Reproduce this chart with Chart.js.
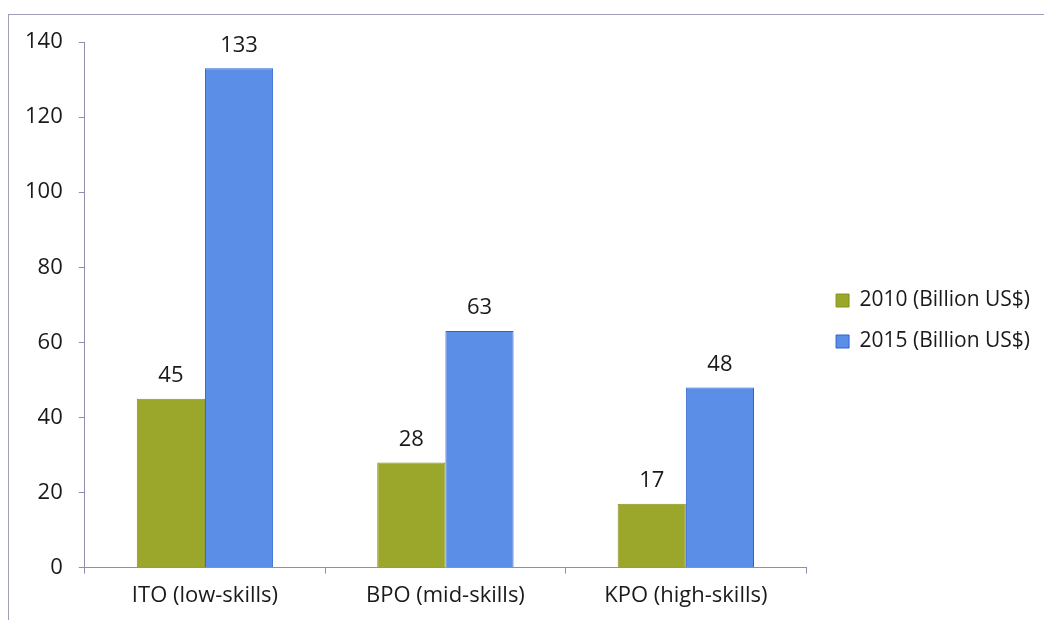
<!DOCTYPE html>
<html>
<head>
<meta charset="utf-8">
<script src="https://cdn.jsdelivr.net/npm/chart.js@4"></script>
<style>
  html, body { margin: 0; padding: 0; background: #fff; }
  body { width: 1044px; height: 620px; overflow: hidden; position: relative; }
  #frame {
    position: absolute; left: 8px; top: 14px; width: 1040px; height: 610px;
    border-top: 1px solid #9fa0b8; border-left: 1px solid #9fa0b8;
  }
  #wrap { position: absolute; left: 9px; top: 15px; width: 1035px; height: 605px; }
</style>
</head>
<body>
<div id="frame"></div>
<div id="wrap"><canvas id="c" width="1035" height="605"></canvas></div>
<script>
const categories = ['ITO (low-skills)', 'BPO (mid-skills)', 'KPO (high-skills)'];
const seriesNames = ['2010 (Billion US$)', '2015 (Billion US$)'];
const values2010 = [45, 28, 17];
const values2015 = [133, 63, 48];
const yTicks = [0, 20, 40, 60, 80, 100, 120, 140];

const FONT = '"Open Sans", sans-serif';
const SIZE = 22;
const AXIS = '#8e8fac';
const LEGEND_GAP = 10;   // extra room between plot and legend
const LEGEND_LIFT = 9;   // raise the legend block a little

// Writes each bar's value just above it
const valueLabels = {
  id: 'valueLabels',
  afterDatasetsDraw(chart) {
    const ctx = chart.ctx;
    ctx.save();
    ctx.font = SIZE + 'px ' + FONT;
    ctx.fillStyle = '#1a1a1a';
    ctx.textAlign = 'center';
    ctx.textBaseline = 'bottom';
    chart.data.datasets.forEach((ds, i) => {
      chart.getDatasetMeta(i).data.forEach((bar, j) => {
        ctx.fillText(String(ds.data[j]), bar.x, bar.y - 12);
      });
    });
    ctx.restore();
  }
};

// Widens the legend box on its left side and nudges it upward
const legendPlacement = {
  id: 'legendPlacement',
  beforeUpdate(chart) {
    const lg = chart.legend;
    if (lg && !lg._wideFit) {
      const fit = lg.fit.bind(lg);
      lg.fit = function () { fit(); this.width += LEGEND_GAP; };
      lg._wideFit = true;
    }
  },
  afterLayout(chart) {
    const lg = chart.legend;
    if (!lg) return;
    lg.left += LEGEND_GAP;
    lg.top -= LEGEND_LIFT;
    lg.bottom -= LEGEND_LIFT;
  }
};

new Chart(document.getElementById('c'), {
  type: 'bar',
  data: {
    labels: categories,
    datasets: [
      {
        label: seriesNames[0],
        data: values2010,
        backgroundColor: '#9aa72b',
        borderColor: '#86921f',
        borderWidth: 1,
        categoryPercentage: 0.567,
        barPercentage: 1.0
      },
      {
        label: seriesNames[1],
        data: values2015,
        backgroundColor: '#5b8ee6',
        borderColor: '#2f62cf',
        borderWidth: 1,
        categoryPercentage: 0.567,
        barPercentage: 1.0
      }
    ]
  },
  options: {
    responsive: false,
    animation: false,
    devicePixelRatio: 1,
    layout: { padding: { top: 27, left: 0, right: 4, bottom: 2 } },
    scales: {
      x: {
        grid: { display: true, drawOnChartArea: false, drawTicks: true, tickLength: 6, color: AXIS, offset: true },
        border: { display: true, color: AXIS, width: 1 },
        ticks: { color: '#1a1a1a', font: { family: FONT, size: SIZE }, padding: 9 }
      },
      y: {
        min: 0,
        max: 140,
        afterBuildTicks(scale) { scale.ticks = yTicks.map(v => ({ value: v })); },
        afterFit(scale) { scale.paddingTop = 0; },
        grid: { display: true, drawOnChartArea: false, drawTicks: true, tickLength: 6, color: AXIS },
        border: { display: true, color: AXIS, width: 1 },
        ticks: { color: '#1a1a1a', font: { family: FONT, size: SIZE }, padding: 16 }
      }
    },
    plugins: {
      legend: {
        position: 'right',
        labels: {
          color: '#1a1a1a',
          font: { family: FONT, size: 21 },
          boxWidth: 13,
          boxHeight: 13,
          padding: 20
        }
      },
      tooltip: { enabled: false }
    }
  },
  plugins: [valueLabels, legendPlacement]
});
</script>
</body>
</html>
